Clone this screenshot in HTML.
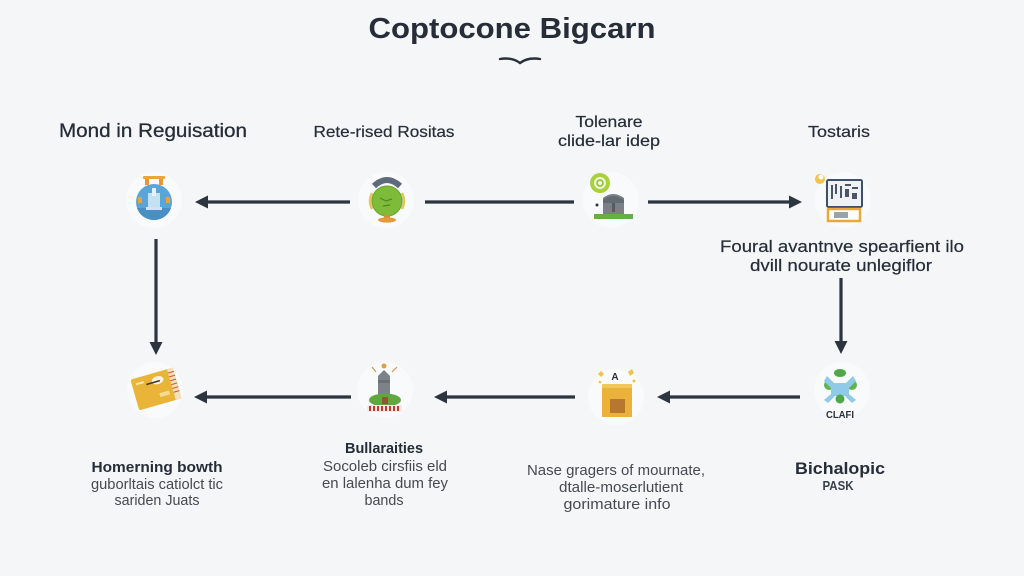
<!DOCTYPE html>
<html>
<head>
<meta charset="utf-8">
<style>
  html,body{margin:0;padding:0;}
  body{width:1024px;height:576px;overflow:hidden;background:#f5f6f7;}
  svg{display:block;}
  text{font-family:"Liberation Sans",Arial,sans-serif;}
</style>
</head>
<body>
<svg width="1024" height="576" viewBox="0 0 1024 576" xmlns="http://www.w3.org/2000/svg">
  <rect width="1024" height="576" fill="#f5f6f7"/>

  <!-- Title -->
  <text x="512" y="38" font-size="29" font-weight="bold" fill="#262d38" text-anchor="middle" textLength="287" lengthAdjust="spacingAndGlyphs">Coptocone Bigcarn</text>
  <path d="M500,59 Q512,57 520,63 Q528,57 540,59" fill="none" stroke="#2a313b" stroke-width="2.4" stroke-linecap="round"/>

  <!-- Column headers -->
  <text x="153" y="137" font-size="19.5" fill="#262d38" stroke="#262d38" stroke-width="0.3" text-anchor="middle" textLength="188" lengthAdjust="spacingAndGlyphs">Mond in Reguisation</text>
  <text x="384" y="137" font-size="16" fill="#262d38" stroke="#262d38" stroke-width="0.2" text-anchor="middle" textLength="141" lengthAdjust="spacingAndGlyphs">Rete-rised Rositas</text>
  <text x="609" y="127" font-size="16" fill="#262d38" stroke="#262d38" stroke-width="0.2" text-anchor="middle" textLength="67" lengthAdjust="spacingAndGlyphs">Tolenare</text>
  <text x="609" y="146" font-size="16" fill="#262d38" stroke="#262d38" stroke-width="0.2" text-anchor="middle" textLength="102" lengthAdjust="spacingAndGlyphs">clide-lar idep</text>
  <text x="839" y="137" font-size="16" fill="#262d38" stroke="#262d38" stroke-width="0.2" text-anchor="middle" textLength="62" lengthAdjust="spacingAndGlyphs">Tostaris</text>

  <!-- faint circles behind icons -->
  <g fill="#fbfcfc" opacity="0.7">
    <circle cx="154" cy="200" r="28"/>
    <circle cx="386" cy="200" r="28"/>
    <circle cx="611" cy="200" r="28"/>
    <circle cx="843" cy="200" r="28"/>
    <circle cx="155" cy="390" r="28"/>
    <circle cx="385" cy="390" r="28"/>
    <circle cx="616" cy="397" r="28"/>
    <circle cx="842" cy="390" r="28"/>
  </g>

  <!-- Arrows -->
  <g stroke="#2c3440" stroke-width="3.2" stroke-linecap="butt" fill="none">
    <line x1="350" y1="202" x2="204" y2="202"/>
    <line x1="425" y1="202" x2="574" y2="202"/>
    <line x1="648" y1="202" x2="792" y2="202"/>
    <line x1="156" y1="239" x2="156" y2="344"/>
    <line x1="841" y1="278" x2="841" y2="343"/>
    <line x1="351" y1="397" x2="204" y2="397"/>
    <line x1="575" y1="397" x2="444" y2="397"/>
    <line x1="800" y1="397" x2="667" y2="397"/>
  </g>
  <g fill="#2c3440">
    <polygon points="195,202 208,195.5 208,208.5"/>
    <polygon points="802,202 789,195.5 789,208.5"/>
    <polygon points="156,355 149.5,342 162.5,342"/>
    <polygon points="841,354 834.5,341 847.5,341"/>
    <polygon points="194,397 207,390.5 207,403.5"/>
    <polygon points="434,397 447,390.5 447,403.5"/>
    <polygon points="657,397 670,390.5 670,403.5"/>
  </g>

  <!-- Icon 1: blue globe-ish -->
  <g>
    <rect x="145" y="176" width="4" height="9" fill="#e39a34"/>
    <rect x="159" y="176" width="4" height="9" fill="#e39a34"/>
    <rect x="143" y="176" width="22" height="3" rx="1" fill="#eaa53c"/>
    <circle cx="154" cy="202" r="18" fill="#5ba5d6"/>
    <path d="M137,208 A18,18 0 0 0 171,208 Z" fill="#4a8fc4"/>
    <rect x="138" y="197" width="4" height="6" fill="#e8a33a"/>
    <rect x="166" y="197" width="4" height="6" fill="#e8a33a"/>
    <rect x="148" y="193" width="12" height="14" fill="#d7ebf7" opacity="0.85"/>
    <rect x="152" y="188" width="4" height="8" fill="#e6f2fa"/>
    <rect x="146" y="207" width="16" height="3" fill="#cfe3f2"/>
  </g>

  <!-- Icon 2: green ball with cap -->
  <g>
    <path d="M374,186 Q387,174 400,186" fill="none" stroke="#5d6b7a" stroke-width="6"/>
    <path d="M372,193 q-4,8 0,16" fill="none" stroke="#e7c55a" stroke-width="2.5"/>
    <path d="M402,193 q4,8 0,16" fill="none" stroke="#e7c55a" stroke-width="2.5"/>
    <circle cx="387" cy="201" r="15" fill="#7dbb39"/>
    <circle cx="387" cy="201" r="15" fill="none" stroke="#6aa52d" stroke-width="1"/>
    <path d="M380,198 l6,3 l6,-2 M383,206 l7,-1" stroke="#4e8a24" stroke-width="1.2" fill="none"/>
    <rect x="384" y="215" width="6" height="4" fill="#d98c31"/>
    <ellipse cx="387" cy="220" rx="9" ry="2.6" fill="#e39a3a"/>
  </g>

  <!-- Icon 3: green badge + tombstone -->
  <g>
    <circle cx="600" cy="183" r="10" fill="#a9d03d"/>
    <circle cx="600" cy="183" r="6" fill="#eef6d8"/>
    <circle cx="600" cy="183" r="3" fill="none" stroke="#8bbb28" stroke-width="1.5"/>
    <path d="M603,217 L603,198 Q613,190 624,198 L624,217 Z" fill="#7b8087"/>
    <path d="M603,200 Q613,192 624,200 L624,203 L603,203 Z" fill="#646a71"/>
    <rect x="612" y="203" width="3" height="9" fill="#555b62"/>
    <rect x="594" y="214" width="39" height="5" fill="#63b046"/>
    <circle cx="597" cy="205" r="1.5" fill="#333"/>
  </g>

  <!-- Icon 4: screen/document -->
  <g>
    <circle cx="820" cy="179" r="5" fill="#f0c34a"/>
    <circle cx="821" cy="177" r="2.5" fill="#fff"/>
    <rect x="827" y="180" width="35" height="27" rx="1.5" fill="#eef2f6" stroke="#3d5068" stroke-width="2"/>
    <g fill="#4a5566">
      <rect x="831" y="185" width="2" height="14"/>
      <rect x="835" y="184" width="2" height="10"/>
      <rect x="840" y="186" width="2" height="12"/>
      <rect x="845" y="184" width="6" height="2"/>
      <rect x="845" y="189" width="4" height="8"/>
      <rect x="852" y="187" width="6" height="2"/>
      <rect x="852" y="193" width="5" height="6"/>
    </g>
    <rect x="828" y="209" width="32" height="12" fill="#fff" stroke="#e9a93a" stroke-width="2.5"/>
    <rect x="834" y="212" width="14" height="6" fill="#9aa3ad"/>
  </g>

  <!-- Row 2 icon 1: yellow card -->
  <g transform="rotate(-16 156 389)">
    <rect x="134" y="373" width="44" height="32" rx="2" fill="#e9b437"/>
    <rect x="172" y="373" width="6" height="32" fill="#f1e0b8"/>
    <g stroke="#d2523e" stroke-width="1">
      <line x1="172" y1="377" x2="178" y2="377"/>
      <line x1="172" y1="381" x2="178" y2="381"/>
      <line x1="172" y1="385" x2="178" y2="385"/>
      <line x1="172" y1="389" x2="178" y2="389"/>
      <line x1="172" y1="393" x2="178" y2="393"/>
      <line x1="172" y1="397" x2="178" y2="397"/>
    </g>
    <ellipse cx="160" cy="381" rx="6" ry="4" fill="#fbf3dd"/>
    <path d="M148,382 l14,0" stroke="#3a3a3a" stroke-width="1.5"/>
    <rect x="138" y="378" width="8" height="2" fill="#f6e8bb"/>
    <rect x="158" y="394" width="10" height="4" fill="#f4dc8f"/>
  </g>

  <!-- Row 2 icon 2: tower on hill -->
  <g>
    <line x1="376" y1="372" x2="372" y2="367" stroke="#c99a52" stroke-width="1.2"/>
    <line x1="392" y1="372" x2="397" y2="367" stroke="#c99a52" stroke-width="1.2"/>
    <circle cx="384" cy="366" r="2.5" fill="#d9a24a"/>
    <path d="M378,398 L378,376 L384,370 L390,376 L390,398 Z" fill="#7d8288"/>
    <rect x="378" y="380" width="12" height="3" fill="#6a6f75"/>
    <ellipse cx="385" cy="400" rx="16" ry="6.5" fill="#5ea83d"/>
    <rect x="382" y="397" width="6" height="7" fill="#8a5a34"/>
    <rect x="367" y="405" width="35" height="7" rx="2" fill="#f3e9e6"/>
    <g fill="#c0392b">
      <rect x="369" y="406" width="2" height="5"/>
      <rect x="373" y="406" width="2" height="5"/>
      <rect x="377" y="406" width="2" height="5"/>
      <rect x="381" y="406" width="2" height="5"/>
      <rect x="385" y="406" width="2" height="5"/>
      <rect x="389" y="406" width="2" height="5"/>
      <rect x="393" y="406" width="2" height="5"/>
      <rect x="397" y="406" width="2" height="5"/>
    </g>
  </g>

  <!-- Row 2 icon 3: yellow house with A -->
  <g>
    <path d="M598,374 l3,-3 l3,3 l-3,3 z" fill="#f0c34a"/>
    <path d="M628,372 l4,-3 l2,4 l-4,3 z" fill="#f0c34a"/>
    <circle cx="634" cy="381" r="1.5" fill="#f0c34a"/>
    <circle cx="600" cy="382" r="1.3" fill="#f0c34a"/>
    <text x="615" y="380" font-size="10" font-weight="bold" fill="#2a313b" text-anchor="middle">A</text>
    <rect x="602" y="384" width="30" height="33" fill="#e9b33b"/>
    <rect x="602" y="384" width="30" height="4" fill="#f1c65a"/>
    <rect x="610" y="399" width="15" height="14" fill="#b7772e"/>
  </g>

  <!-- Row 2 icon 4: globe -->
  <g>
    <ellipse cx="840" cy="373" rx="6" ry="4" fill="#4fa84a"/>
    <circle cx="829" cy="385" r="5" fill="#5db450"/>
    <circle cx="852" cy="385" r="5" fill="#5db450"/>
    <path d="M827,376 L834,383 L846,383 L853,376 L856,381 L849,388 L849,394 L856,400 L852,403 L845,396 L835,396 L828,403 L824,400 L831,394 L831,388 L824,381 Z" fill="#8fcbe8"/>
    <circle cx="840" cy="399" r="4.5" fill="#4fa84a"/>
    <text x="840" y="418" font-size="10" font-weight="bold" fill="#2a313b" text-anchor="middle" textLength="28" lengthAdjust="spacingAndGlyphs">CLAFI</text>
  </g>

  <!-- Right-side description -->
  <text x="842" y="252" font-size="17" fill="#262d38" stroke="#262d38" stroke-width="0.2" text-anchor="middle" textLength="244" lengthAdjust="spacingAndGlyphs">Foural avantnve spearfient ilo</text>
  <text x="841" y="271" font-size="17" fill="#262d38" stroke="#262d38" stroke-width="0.2" text-anchor="middle" textLength="182" lengthAdjust="spacingAndGlyphs">dvill nourate unlegiflor</text>

  <!-- Bottom texts -->
  <text x="157" y="472" font-size="15" font-weight="bold" fill="#262d38" text-anchor="middle" textLength="131" lengthAdjust="spacingAndGlyphs">Homerning bowth</text>
  <text x="157" y="489" font-size="15" fill="#454a51" text-anchor="middle" textLength="132" lengthAdjust="spacingAndGlyphs">guborltais catiolct tic</text>
  <text x="157" y="505" font-size="15" fill="#454a51" text-anchor="middle" textLength="85" lengthAdjust="spacingAndGlyphs">sariden Juats</text>

  <text x="384" y="453" font-size="15" font-weight="bold" fill="#262d38" text-anchor="middle" textLength="78" lengthAdjust="spacingAndGlyphs">Bullaraities</text>
  <text x="385" y="471" font-size="15" fill="#454a51" text-anchor="middle" textLength="124" lengthAdjust="spacingAndGlyphs">Socoleb cirsfiis eld</text>
  <text x="385" y="488" font-size="15" fill="#454a51" text-anchor="middle" textLength="126" lengthAdjust="spacingAndGlyphs">en lalenha dum fey</text>
  <text x="384" y="505" font-size="15" fill="#454a51" text-anchor="middle" textLength="39" lengthAdjust="spacingAndGlyphs">bands</text>

  <text x="616" y="475" font-size="15" fill="#454a51" text-anchor="middle" textLength="178" lengthAdjust="spacingAndGlyphs">Nase gragers of mournate,</text>
  <text x="621" y="492" font-size="15" fill="#454a51" text-anchor="middle" textLength="124" lengthAdjust="spacingAndGlyphs">dtalle-moserlutient</text>
  <text x="617" y="509" font-size="15" fill="#454a51" text-anchor="middle" textLength="107" lengthAdjust="spacingAndGlyphs">gorimature info</text>

  <text x="840" y="474" font-size="17" font-weight="bold" fill="#262d38" text-anchor="middle" textLength="90" lengthAdjust="spacingAndGlyphs">Bichalopic</text>
  <text x="838" y="490" font-size="13" font-weight="bold" fill="#3a4049" text-anchor="middle" textLength="31" lengthAdjust="spacingAndGlyphs">PASK</text>
</svg>
</body>
</html>
